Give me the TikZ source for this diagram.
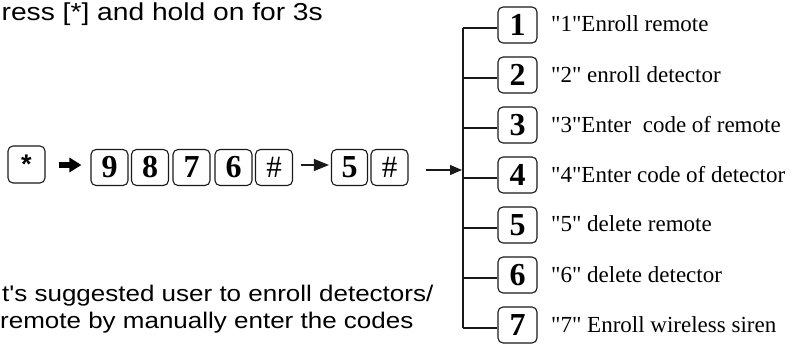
\documentclass[tikz,border=0pt]{standalone}
\usepackage{fontspec}
\setmainfont{Liberation Serif}
\newfontfamily\lblfont{Liberation Serif}
\newfontfamily\widesans[FakeStretch=1.15]{Liberation Sans}
\newfontfamily\starfont{Liberation Sans}
\usetikzlibrary{arrows.meta}
\begin{document}
\begin{tikzpicture}[x=1pt,y=-1pt,
  key/.style={draw=black!90, line width=1.1pt, rounded corners=5pt,
    minimum width=37pt, minimum height=36pt, inner sep=0pt,
    font=\fontsize{32}{32}\selectfont\bfseries},
  hashkey/.style={key, font=\lblfont\fontsize{31}{31}\selectfont},
  opt/.style={key, minimum width=39pt},
  lbl/.style={anchor=base west, inner sep=0pt, font=\lblfont\fontsize{23}{23}\selectfont},
  note/.style={anchor=base west, inner sep=0pt},
  wire/.style={line width=1.1pt, draw=black!90},
  ]
\useasboundingbox (0,0) rectangle (793,345);

% top text
\node[note, font=\widesans\fontsize{24.5}{24.5}\selectfont] (title) at (1.5,20.5) {ress [*] and hold on for 3s};
% bottom text
\node[note, font=\widesans\fontsize{22.6}{22.6}\selectfont] (note1) at (2,301) {t's suggested user to enroll detectors/};
\node[note, font=\widesans\fontsize{22.6}{22.6}\selectfont] (note2) at (0,328) {remote by manually enter the codes};

% key sequence
\node[key, minimum height=37pt] (star) at (26.5,164.5) {\raisebox{-8pt}{\starfont\bfseries\fontsize{27}{27}\selectfont *}};
\node[key] (k9) at (109.5,167.5) {9};
\node[key] (k8) at (150,167.5) {8};
\node[key] (k7) at (191.5,167.5) {7};
\node[key] (k6) at (233.5,167.5) {6};
\node[hashkey] (h1) at (274,167.5) {\#};
\node[key, minimum width=36pt] (k5) at (349.5,167.5) {5};
\node[hashkey] (h2) at (389.5,167.5) {\#};

\coordinate (r1) at (0,165);
\coordinate (r3) at (0,170);
\draw[line width=5.5pt, -{Triangle[length=12pt,width=14pt]}, shorten <=13pt, shorten >=9pt]
  (star.east |- r1) -- (k9.west |- r1);
\draw[wire, -{Triangle[length=15pt,width=12pt]}, shorten <=8pt, shorten >=2pt]
  (h1.east |- r1) -- (k5.west |- r1);

% option tree
\coordinate (top) at (463,28);
\coordinate (bot) at (463,328);
\draw[wire] (top) -- (bot);
\coordinate (in) at (463,170);
\draw[wire, -{Triangle[length=12pt,width=10pt]}, shorten <=17pt, shorten >=1pt]
  (h2.east |- r3) -- (in);

\node[opt] (o1) at (517.5,25) {1};
\node[opt] (o2) at (517.5,75) {2};
\node[opt] (o3) at (517.5,125) {3};
\node[opt] (o4) at (517.5,175) {4};
\node[opt] (o5) at (517.5,225) {5};
\node[opt] (o6) at (517.5,275) {6};
\node[opt] (o7) at (517.5,325) {7};

\foreach \i/\y in {1/28,2/78,3/128,4/178,5/228,6/278,7/328}{
  \coordinate (j\i) at (463,\y);
  \draw[wire] (j\i) -- (j\i -| o\i.west);
}

\node[lbl] (l1) at (551,32) {"1"Enroll remote};
\node[lbl] (l2) at (551,82) {"2" enroll detector};
\node[lbl] (l3) at (551,132) {"3"Enter\ \ code of remote};
\node[lbl] (l4) at (551,182) {"4"Enter code of detector};
\node[lbl] (l5) at (551,231.5) {"5" delete remote};
\node[lbl] (l6) at (551,282) {"6" delete detector};
\node[lbl] (l7) at (551,332) {"7" Enroll wireless siren};
\end{tikzpicture}
\end{document}
